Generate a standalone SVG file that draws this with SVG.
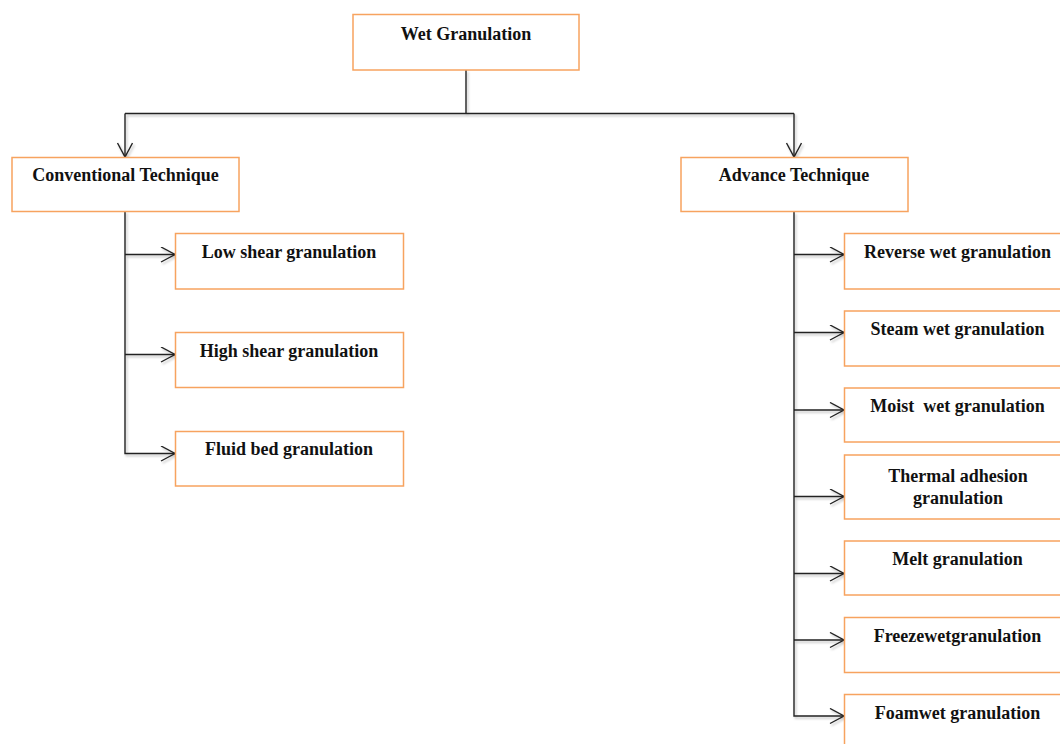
<svg xmlns="http://www.w3.org/2000/svg" width="1060" height="744" viewBox="0 0 1060 744">
<style>
.box{fill:#ffffff;stroke:#F7A35F;stroke-width:1.5}
.lbl{font-family:"Liberation Serif","Times New Roman",serif;font-weight:bold;font-size:18px;fill:#111;text-anchor:middle}
.ln{fill:none;stroke:#222;stroke-width:1.4}
</style>
<defs>
<marker id="arr" markerUnits="userSpaceOnUse" markerWidth="20" markerHeight="20" refX="15" refY="8" orient="auto" viewBox="0 0 20 20">
<path d="M1,0.5 L15,8 L1,15.5" fill="none" stroke="#222" stroke-width="1.4"/>
</marker>
<filter id="sh" x="-10%" y="-10%" width="130%" height="130%">
<feDropShadow dx="1.5" dy="2" stdDeviation="1.2" flood-color="#000" flood-opacity="0.25"/>
</filter>
</defs>
<rect width="1060" height="744" fill="#ffffff"/>
<g id="connectors" filter="url(#sh)">
<path class="ln" d="M466,70 V113.5"/>
<path class="ln" d="M125,113.5 H794"/>
<path class="ln" d="M125,113.5 V157" marker-end="url(#arr)"/>
<path class="ln" d="M794,113.5 V157" marker-end="url(#arr)"/>
<path class="ln" d="M125,211 V453.5 H175" marker-end="url(#arr)"/>
<path class="ln" d="M125,254.5 H175" marker-end="url(#arr)"/>
<path class="ln" d="M125,354.5 H175" marker-end="url(#arr)"/>
<path class="ln" d="M794,212 V716 H844" marker-end="url(#arr)"/>
<path class="ln" d="M794,254.5 H844" marker-end="url(#arr)"/>
<path class="ln" d="M794,332.5 H844" marker-end="url(#arr)"/>
<path class="ln" d="M794,410 H844" marker-end="url(#arr)"/>
<path class="ln" d="M794,496.5 H844" marker-end="url(#arr)"/>
<path class="ln" d="M794,573.5 H844" marker-end="url(#arr)"/>
<path class="ln" d="M794,640 H844" marker-end="url(#arr)"/>
</g>
<g id="wet"><rect class="box" x="353" y="14.5" width="226" height="55.5"/><text class="lbl" x="466" y="39.5">Wet Granulation</text></g>
<g id="conv"><rect class="box" x="12" y="157.5" width="227" height="54"/><text class="lbl" x="125.5" y="181">Conventional Technique</text></g>
<g id="adv"><rect class="box" x="681" y="157.5" width="227" height="54"/><text class="lbl" x="794" y="181">Advance Technique</text></g>
<g id="low"><rect class="box" x="175.5" y="233.5" width="228" height="55.5"/><text class="lbl" x="289" y="258">Low shear granulation</text></g>
<g id="high"><rect class="box" x="175.5" y="332.5" width="228" height="55"/><text class="lbl" x="289" y="357">High shear granulation</text></g>
<g id="fluid"><rect class="box" x="175.5" y="431.5" width="228" height="54.5"/><text class="lbl" x="289" y="455">Fluid bed granulation</text></g>
<g id="reverse"><rect class="box" x="844.5" y="233.5" width="227" height="55.5"/><text class="lbl" x="957.5" y="257.5">Reverse wet granulation</text></g>
<g id="steam"><rect class="box" x="844.5" y="311" width="227" height="55"/><text class="lbl" x="957.5" y="335">Steam wet granulation</text></g>
<g id="moist"><rect class="box" x="844.5" y="388" width="227" height="54"/><text class="lbl" x="957.5" y="411.5" xml:space="preserve">Moist  wet granulation</text></g>
<g id="thermal"><rect class="box" x="844.5" y="455" width="227" height="64"/><text class="lbl" x="958" y="481.5">Thermal adhesion</text><text class="lbl" x="958" y="503.5">granulation</text></g>
<g id="melt"><rect class="box" x="844.5" y="541" width="227" height="54"/><text class="lbl" x="957.5" y="565">Melt granulation</text></g>
<g id="freeze"><rect class="box" x="844.5" y="617.5" width="227" height="55"/><text class="lbl" x="957.5" y="641.5">Freezewetgranulation</text></g>
<g id="foam"><rect class="box" x="844.5" y="694.5" width="227" height="60"/><text class="lbl" x="957.5" y="718.5">Foamwet granulation</text></g>
</svg>
